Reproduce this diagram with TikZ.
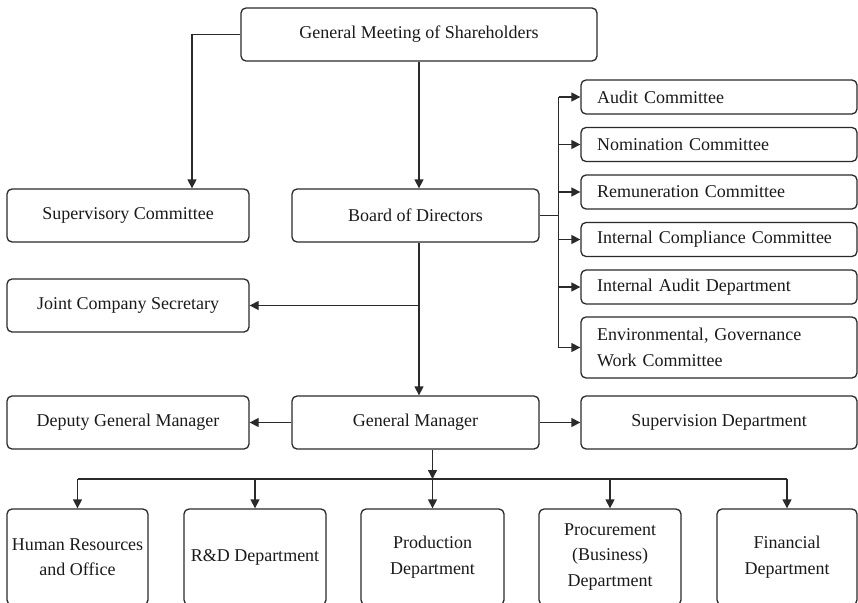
\documentclass[tikz,border=0pt]{standalone}
\usepackage{fontspec}
\setmainfont{Liberation Serif}
\usetikzlibrary{arrows.meta,calc}
\definecolor{linec}{HTML}{2A2A2A}
\definecolor{textc}{HTML}{1A1A1A}
\begin{document}
\begin{tikzpicture}[x=1pt,y=-1pt,
  box/.style={draw=linec, line width=1.3pt, rounded corners=5pt, text=textc,
    font=\fontsize{18}{25.5}\selectfont, align=center, inner sep=0pt},
  mid/.style={box, minimum width=247pt, minimum height=53pt},
  lft/.style={box, minimum width=242pt, minimum height=53pt},
  comm/.style={box, minimum height=34pt, text width=244pt, inner xsep=16pt, align=left},
  dept/.style={box, minimum height=96pt},
  conn/.style={draw=linec, line width=1.3pt},
  arr/.style={conn, -{Triangle[length=9pt,width=9pt]}}]
\useasboundingbox (0,0) rectangle (858,602);
\clip (0,0) rectangle (858,602);

% top
\node[box, minimum width=356pt, minimum height=53pt] (gms) at (419,34.5) {General Meeting of Shareholders};
\node[lft] (sup) at (128,215.5) {Supervisory Committee};
\node[mid] (bod) at (415.5,215.5) {Board of Directors};
\node[lft] (jcs) at (128,305.5) {Joint Company Secretary};
\node[lft] (dgm) at (128,422.5) {Deputy General Manager};
\node[mid] (gm) at (415.5,422.5) {General Manager};
\node[box, minimum width=276pt, minimum height=53pt] (sd) at (719,422.5) {Supervision Department};

% committees
\node[comm] (aud) at (719,97) {Audit Committee};
\node[comm] (nom) at (719,144.5) {Nomination Committee};
\node[comm] (rem) at (719,192) {Remuneration Committee};
\node[comm] (icc) at (719,239.5) {Internal Compliance Committee};
\node[comm] (iad) at (719,287) {Internal Audit Department};
\node[comm, minimum height=61pt] (env) at (719,347.5) {Environmental, Governance\\Work Committee};

% departments
\node[dept, minimum width=141pt] (hr) at (77.5,557) {Human Resources\\and Office};
\node[dept, minimum width=142pt] (rd) at (255,557) {R\&D Department};
\node[dept, minimum width=143pt] (prod) at (432.5,557) {Production\\Department};
\node[dept, minimum width=142pt] (proc) at (610,557) {Procurement\\(Business)\\Department};
\node[dept, minimum width=140pt] (fin) at (787,557) {Financial\\Department};

% connectors
\draw[arr] (gms.west) -| ($(sup.north)+(64,0)$);
\draw[arr] (gms.south) -- (gms.south |- bod.north);
\draw[conn] (bod.east) -- ++(19,0) coordinate (br);
\draw[conn] (br |- aud.west) -- (br |- env.west);
\foreach \c in {aud,nom,rem,icc,iad,env}{
  \draw[arr] (br |- \c.west) -- (\c.west);
}
\draw[arr] (gms.south |- bod.south) -- (gms.south |- gm.north);
\draw[arr] (gms.south |- jcs.east) -- (jcs.east);
\draw[arr] (gm.west) -- (dgm.east);
\draw[arr] (gm.east) -- (sd.west);
\coordinate (bus) at (0,479);
\draw[arr] (prod.north |- gm.south) -- (prod.north |- bus);
\draw[conn] (hr.north |- bus) -- (fin.north |- bus);
\foreach \d in {hr,rd,prod,proc,fin}{
  \draw[arr] (\d.north |- bus) -- (\d.north);
}
\end{tikzpicture}
\end{document}
